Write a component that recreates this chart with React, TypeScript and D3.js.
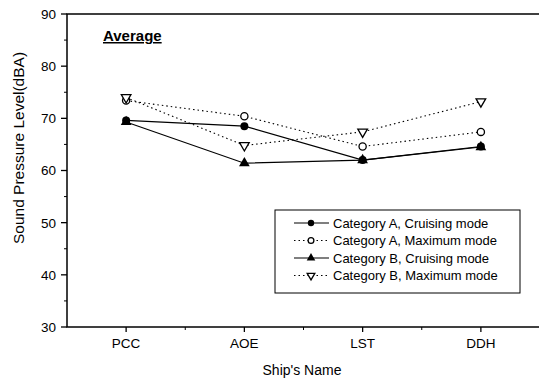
import React from "react";
import * as d3 from "d3";

const ships = ["PCC", "AOE", "LST", "DDH"];
const catACruising = [69.6, 68.5, 62.0, 64.6];
const catAMaximum = [73.4, 70.4, 64.6, 67.4];
const catBCruising = [69.3, 61.4, 62.0, 64.5];
const catBMaximum = [74.0, 64.8, 67.4, 73.2];
const yTicks = [30, 40, 50, 60, 70, 80, 90];
const seriesNames = [
  "Category A, Cruising mode",
  "Category A, Maximum mode",
  "Category B, Cruising mode",
  "Category B, Maximum mode",
];

const W = 539, H = 381;
const L = 67, R = 540, T = 14, B = 327;
const FONT = "'Liberation Sans', Arial, sans-serif";

function Marker({ type, x, y, s = 1 }: { type: string; x: number; y: number; s?: number }) {
  if (type === "fcircle") return <circle cx={x} cy={y} r={4 * s} fill="#000" />;
  if (type === "ocircle") return <circle cx={x} cy={y} r={3.6 * s} fill="#fff" stroke="#000" strokeWidth={1.3} />;
  if (type === "ftri") {
    const p = d3.symbol().type(d3.symbolTriangle).size(50 * s * s)();
    return <path d={p!} transform={`translate(${x},${y})`} fill="#000" />;
  }
  const p = d3.symbol().type(d3.symbolTriangle).size(40 * s * s)();
  return <path d={p!} transform={`translate(${x},${y}) rotate(180)`} fill="#fff" stroke="#000" strokeWidth={1.3} />;
}

export default function App() {
  const x = d3.scaleBand().domain(ships).range([L, R]);
  const y = d3.scaleLinear().domain([30, 90]).range([B, T]);
  const cx = (s: string) => x(s)! + x.bandwidth() / 2;
  const series = [
    { vals: catACruising, marker: "fcircle", dash: "" },
    { vals: catAMaximum, marker: "ocircle", dash: "1.5,3" },
    { vals: catBCruising, marker: "ftri", dash: "" },
    { vals: catBMaximum, marker: "otri", dash: "1.5,3" },
  ];
  const line = d3.line<number>().x((_, i) => cx(ships[i])).y((v) => y(v));
  const minorY = d3.range(35, 90, 10);
  const minorX = ships.slice(1).map((s) => x(s)!);

  return (
    <svg width={W} height={H} style={{ position: "absolute", left: 0, top: 0, background: "#fff" }} fontFamily={FONT}>
      <rect x={0} y={0} width={W} height={H} fill="#fff" />
      <rect x={L} y={T} width={R - L} height={B - T} fill="none" stroke="#000" strokeWidth={1.5} />
      {yTicks.map((t) => (
        <g key={t}>
          <line x1={L - 6} x2={L} y1={y(t)} y2={y(t)} stroke="#000" strokeWidth={1.3} />
          <text x={L - 11} y={y(t)} dy="0.36em" textAnchor="end" fontSize={13.5}>{t}</text>
        </g>
      ))}
      {minorY.map((t) => (
        <line key={t} x1={L - 3} x2={L} y1={y(t)} y2={y(t)} stroke="#000" strokeWidth={1} />
      ))}
      {ships.map((s) => (
        <g key={s}>
          <line x1={cx(s)} x2={cx(s)} y1={B} y2={B + 5} stroke="#000" strokeWidth={1.3} />
          <text x={cx(s)} y={348} textAnchor="middle" fontSize={13.5}>{s}</text>
        </g>
      ))}
      {minorX.map((v, i) => (
        <line key={i} x1={v} x2={v} y1={B} y2={B + 3} stroke="#000" strokeWidth={1} />
      ))}
      <text x={302} y={375} textAnchor="middle" fontSize={14}>Ship's Name</text>
      <text transform={`translate(24,148) rotate(-90)`} textAnchor="middle" fontSize={15.5}>
        Sound Pressure Level(dBA)
      </text>
      <text x={103} y={41} fontSize={15} fontWeight="bold" textDecoration="underline">Average</text>
      {series.map((s, i) => (
        <path key={i} d={line(s.vals)!} fill="none" stroke="#000" strokeWidth={s.dash ? 1.1 : 1.2} strokeDasharray={s.dash || undefined} />
      ))}
      {series.map((s, i) =>
        s.vals.map((v, j) => <Marker key={`${i}-${j}`} type={s.marker} x={cx(ships[j])} y={y(v)} />)
      )}
      <rect x={275} y={210} width={245} height={83} fill="#fff" stroke="#000" strokeWidth={1} />
      {series.map((s, i) => {
        const ly = 223 + i * 17.5;
        return (
          <g key={i}>
            <line x1={294} x2={329} y1={ly} y2={ly} stroke="#000" strokeWidth={1.1} strokeDasharray={s.dash || undefined} />
            <Marker type={s.marker} x={311} y={ly} s={0.8} />
            <text x={333} y={ly} dy="0.36em" fontSize={13}>{seriesNames[i]}</text>
          </g>
        );
      })}
    </svg>
  );
}
